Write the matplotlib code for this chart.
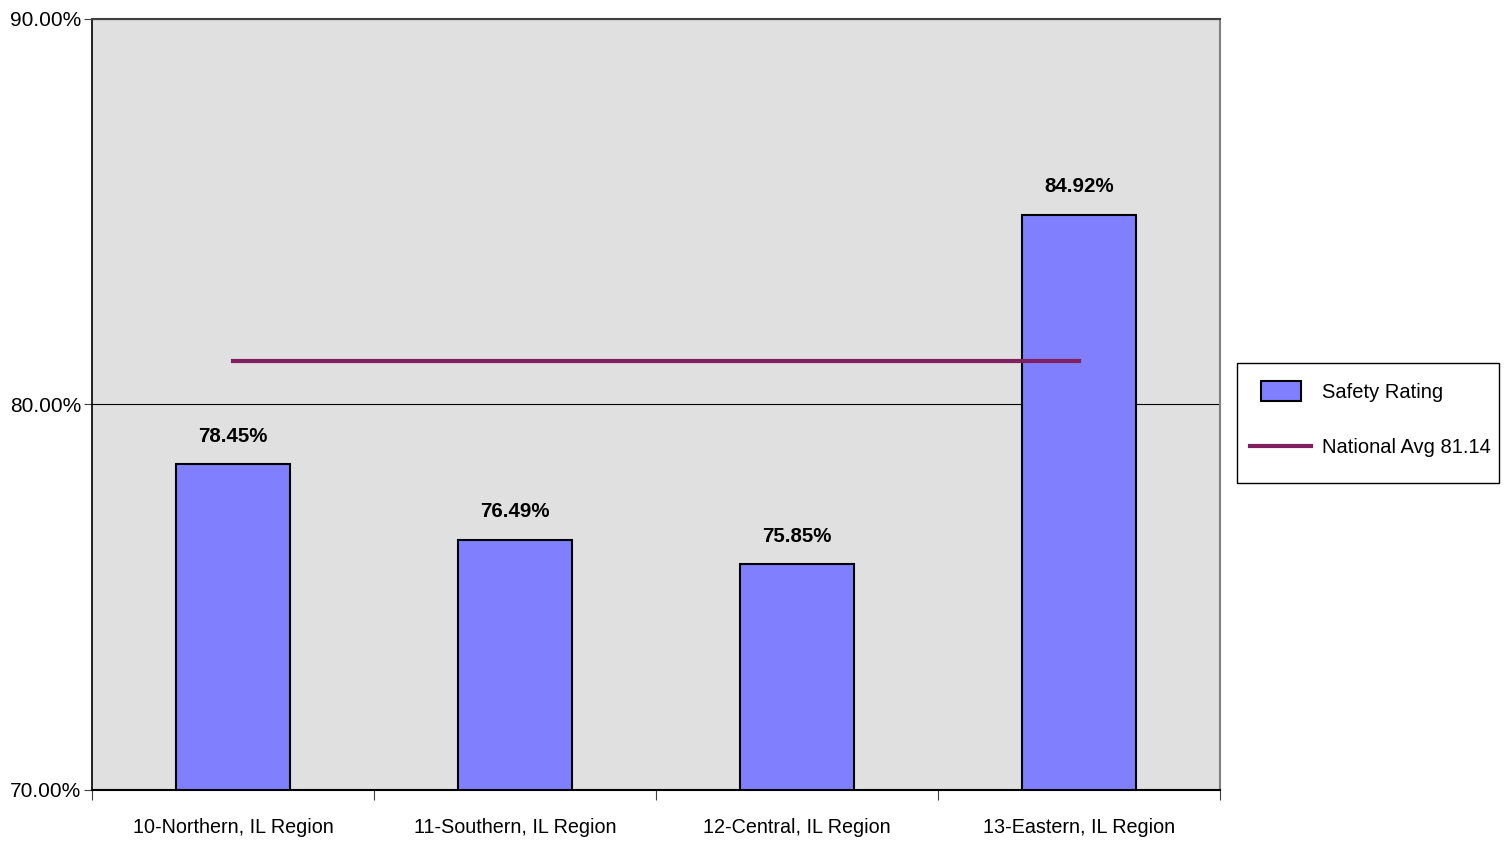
import matplotlib
matplotlib.use("Agg")
import matplotlib.pyplot as plt
from matplotlib.ticker import FuncFormatter, FixedLocator
from matplotlib.legend_handler import HandlerPatch, update_from_first_child
from matplotlib.patches import Rectangle

categories = ["10-Northern, IL Region", "11-Southern, IL Region", "12-Central, IL Region", "13-Eastern, IL Region"]
safety_rating = [78.45, 76.49, 75.85, 84.92]
national_avg = [81.14, 81.14, 81.14, 81.14]
value_labels = ["78.45%", "76.49%", "75.85%", "84.92%"]
y_ticks = [70, 80, 90]

plt.rcParams['font.family'] = ['Liberation Sans', 'DejaVu Sans']

W, H = 1509, 864
fig = plt.figure(figsize=(W / 100, H / 100), dpi=100)
ax = fig.add_axes([92/W, 74/H, 1128/W, 771/H])
ax.set_facecolor('#E0E0E0')

x = list(range(len(categories)))
bars = ax.bar(x, [v - 70 for v in safety_rating], bottom=70, width=0.405,
              color='#8080FF', edgecolor='black', linewidth=1.5, zorder=3, label='Safety Rating')
line, = ax.plot(x, national_avg, color='#802060', linewidth=3, zorder=4, label='National Avg 81.14')

for xi, v, lab in zip(x, safety_rating, value_labels):
    ax.text(xi, v + 0.48, lab, ha='center', va='bottom', fontsize=14.8, fontweight='bold', zorder=5)

ax.set_xlim(-0.5, 3.5)
ax.set_ylim(70, 90)
ax.yaxis.set_major_locator(FixedLocator(y_ticks))
ax.yaxis.set_major_formatter(FuncFormatter(lambda v, p: f"{v:.2f}%"))
ax.grid(axis='y', color='black', linewidth=0.8, zorder=1)
ax.set_axisbelow(True)

ax.set_xticks([-0.5, 0.5, 1.5, 2.5, 3.5])
ax.set_xticklabels([])
ax.set_xticks(x, minor=True)
ax.set_xticklabels(categories, minor=True)
ax.tick_params(axis='x', which='minor', length=0, labelsize=14.2, pad=20)
ax.tick_params(axis='x', which='major', length=7, direction='out', color='#404040')
ax.tick_params(axis='y', length=6, direction='out', labelsize=15.0, pad=2, color='#404040')

ax.spines['left'].set_color('black')
ax.spines['bottom'].set_color('black')
ax.spines['bottom'].set_linewidth(1.5)
ax.spines['left'].set_linewidth(1.2)
ax.spines['top'].set_color('#404040')
ax.spines['top'].set_linewidth(1.5)
ax.spines['right'].set_color('#808080')
ax.spines['right'].set_linewidth(1.5)


def narrow_patch(legend, orig_handle, xdescent, ydescent, width, height, fontsize):
    w = width * 0.65
    h = height * 1.4
    return Rectangle((xdescent + (width - w) / 2, ydescent + (height - h) / 2), w, h)


# legend frame (drawn beneath the axes so the legend entries sit on top)
fig.add_artist(Rectangle((1237/W, 1 - 483/H), 262/W, 120/H, transform=fig.transFigure,
                         facecolor='white', edgecolor='black', linewidth=1.0, zorder=-5))

leg = ax.legend(handles=[bars, line], loc='upper left', bbox_to_anchor=(1250/W, 1 - 383/H),
                bbox_transform=fig.transFigure, fontsize=14.5, frameon=False,
                handlelength=3.05, handletextpad=0.55, labelspacing=1.79,
                borderpad=0, borderaxespad=0,
                handler_map={type(bars): HandlerPatch(patch_func=narrow_patch,
                                                      update_func=update_from_first_child)})

fig.savefig('out.png', dpi=100)
